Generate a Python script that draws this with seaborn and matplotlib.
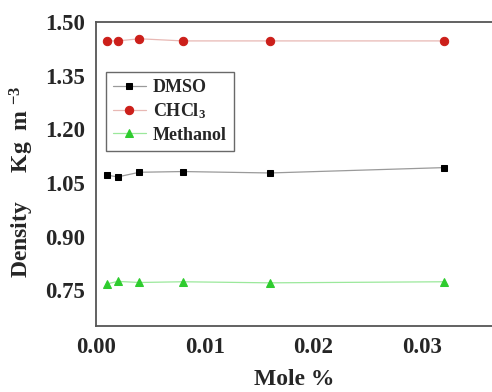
import matplotlib
matplotlib.use("Agg")
import matplotlib.pyplot as plt
import seaborn as sns
import pandas as pd

mole = [0.001, 0.002, 0.004, 0.008, 0.016, 0.032]
dmso = [1.072, 1.067, 1.080, 1.082, 1.078, 1.093]
chcl3 = [1.447, 1.447, 1.453, 1.447, 1.447, 1.447]
methanol = [0.768, 0.775, 0.772, 0.774, 0.771, 0.774]
yticks = [0.75, 0.90, 1.05, 1.20, 1.35, 1.50]
xticks = [0.00, 0.01, 0.02, 0.03]

sns.set_style("white")
plt.rcParams['font.family'] = ['Liberation Serif', 'DejaVu Serif']
plt.rcParams['font.weight'] = 'bold'
plt.rcParams['mathtext.fontset'] = 'custom'
plt.rcParams['mathtext.rm'] = 'Liberation Serif:bold'
plt.rcParams['mathtext.it'] = 'Liberation Serif:bold'
plt.rcParams['mathtext.bf'] = 'Liberation Serif:bold'

fig = plt.figure(figsize=(4.92, 3.92), dpi=100)
ax = fig.add_axes([0.195, 0.168, 0.805, 0.776])

series = [
    ("DMSO", dmso, "s", "black", "#9a9a9a", 5),
    ("CHCl$_3$", chcl3, "o", "#cc1f1a", "#e8b8b4", 6),
    ("Methanol", methanol, "^", "#2ecc2e", "#9be89b", 6),
]
for name, vals, mk, mc, lc, ms in series:
    df = pd.DataFrame({"x": mole, "y": vals})
    sns.lineplot(data=df, x="x", y="y", ax=ax, color=lc, lw=0.9,
                 marker=mk, markersize=ms, markerfacecolor=mc,
                 markeredgecolor=mc, label=name)

ax.set_xlim(0.0, 0.0364)
ax.set_ylim(0.65, 1.50)
ax.set_xticks(xticks)
ax.set_xticklabels([f"{v:.2f}" for v in xticks])
ax.set_yticks(yticks)
ax.set_yticklabels([f"{v:.2f}" for v in yticks])
ax.tick_params(axis='both', labelsize=16.5, length=0, pad=8)
for lab in ax.get_xticklabels() + ax.get_yticklabels():
    lab.set_fontweight('bold')

ax.spines['right'].set_visible(False)
for s in ['left', 'bottom', 'top']:
    ax.spines[s].set_color('#555555')
    ax.spines[s].set_linewidth(1.3)

ax.set_xlabel("Mole %", fontsize=17, fontweight='bold', labelpad=8)
ax.set_ylabel("Density     Kg  m $^{-3}$", fontsize=17, fontweight='bold')
ax.yaxis.set_label_coords(-0.152, 0.475)

leg = ax.legend(loc='upper left', bbox_to_anchor=(0.025, 0.836), borderaxespad=0,
                fontsize=13, frameon=True, fancybox=False, edgecolor='#444444',
                handlelength=1.8, handletextpad=0.4, borderpad=0.4, labelspacing=0.3)
leg.get_frame().set_linewidth(1.0)
for t in leg.get_texts():
    t.set_fontweight('bold')

fig.savefig("out.png", dpi=100)
